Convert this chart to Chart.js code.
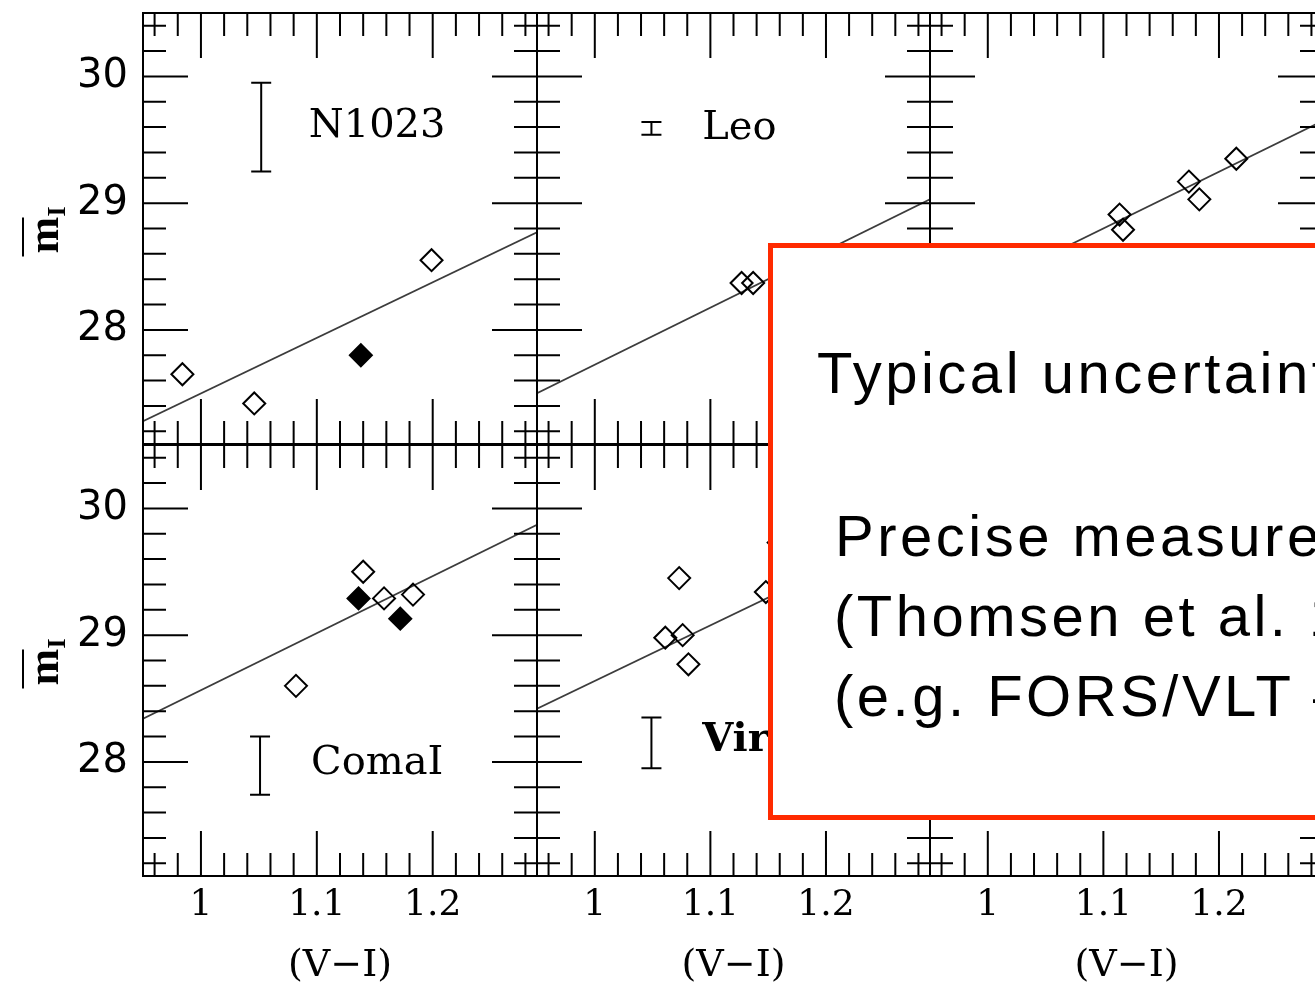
<!DOCTYPE html>
<html>
<head>
<meta charset="utf-8">
<title>SBF magnitude vs (V-I)</title>
<script src="https://cdn.jsdelivr.net/npm/chart.js@4.4.1/dist/chart.umd.min.js"></script>
<style>
  html, body { margin: 0; padding: 0; background: #fff; overflow: hidden; }
  #stage { position: relative; width: 1340px; height: 988px; }
  .panel { position: absolute; left: 0; top: 0; width: 1340px; height: 988px; }
  .note {
    position: absolute; left: 768px; top: 243px;
    width: 600px; height: 567px;
    border: 5px solid #ff2a00; background: #fff;
  }
  .note-line {
    position: absolute; white-space: nowrap; color: #000;
    font-family: "Liberation Sans", Arial, sans-serif;
    font-size: 58px; line-height: 58px; letter-spacing: 3.5px;
  }
</style>
</head>
<body>
<div id="stage">
  <div class="panel"><canvas id="p0"></canvas></div>
  <div class="panel"><canvas id="p1"></canvas></div>
  <div class="panel"><canvas id="p2"></canvas></div>
  <div class="panel"><canvas id="p3"></canvas></div>
  <div class="panel"><canvas id="p4"></canvas></div>
  <div class="panel"><canvas id="p5"></canvas></div>
  <div class="note"></div>
  <div class="note-line" style="left:817px; top:344px;">Typical uncertainty</div>
  <div class="note-line" style="left:835px; top:507px;">Precise measurements</div>
  <div class="note-line" style="left:834px; top:587px;">(Thomsen et al. 1997)</div>
  <div class="note-line" style="left:834px; top:667px;">(e.g. FORS/VLT – 8m)</div>
</div>

<script>
// axis ranges and labelled ticks
const colourRange = [0.95, 1.29];
const magRange = [27.1, 30.5];
const colourTicks = [1, 1.1, 1.2];
const colourTickLabels = ['1', '1.1', '1.2'];
const magTicks = [28, 29, 30];
const magTickLabels = ['28', '29', '30'];

// end points of the fitted relations
const fitVI = [0.95, 1.29];

// NGC 1023
const n1023OpenVI = [0.984, 1.046, 1.199];
const n1023OpenMag = [27.65, 27.42, 28.55];
const n1023FilledVI = [1.138];
const n1023FilledMag = [27.80];
const n1023FitMag = [27.28, 28.77];

// Leo
const leoOpenVI = [1.127, 1.137];
const leoOpenMag = [28.37, 28.37];
const leoFitMag = [27.50, 29.03];

// third group (top right)
const grp3OpenVI = [1.114, 1.117, 1.174, 1.183, 1.215];
const grp3OpenMag = [28.91, 28.79, 29.17, 29.03, 29.35];
const grp3FitMag = [28.13, 29.65];

// Coma I
const comaOpenVI = [1.082, 1.140, 1.158, 1.183];
const comaOpenMag = [28.60, 29.50, 29.29, 29.32];
const comaFilledVI = [1.136, 1.172];
const comaFilledMag = [29.29, 29.13];
const comaFitMag = [28.34, 29.87];

// Virgo
const virgoOpenVI = [1.061, 1.073, 1.076, 1.081, 1.148, 1.159];
const virgoOpenMag = [28.98, 29.45, 29.00, 28.77, 29.34, 29.73];
const virgoFitMag = [28.42, 29.91];

// typical error bar of each panel: colour, centre and half length in mag
const errVI = [1.052, 1.049, null, 1.051, 1.049, null];
const errMag = [29.60, 29.59, null, 27.97, 28.15, null];
const errHalf = [0.35, 0.05, null, 0.23, 0.20, null];

const STAGE_W = 1340, STAGE_H = 988;
const cols = [[143, 537], [537, 930], [930, 1323]];
const rows = [[13, 444], [445, 876]];

function pts(xs, ys) {
  return (xs || []).map((v, i) => ({ x: v, y: ys[i] }));
}

const panels = [
  { col: 0, row: 0, open: pts(n1023OpenVI, n1023OpenMag), filled: pts(n1023FilledVI, n1023FilledMag),
    fit: pts(fitVI, n1023FitMag), name: 'N1023', nameAt: [1.093, 29.60] },
  { col: 1, row: 0, open: pts(leoOpenVI, leoOpenMag), filled: [],
    fit: pts(fitVI, leoFitMag), name: 'Leo', nameAt: [1.093, 29.59] },
  { col: 2, row: 0, open: pts(grp3OpenVI, grp3OpenMag), filled: [],
    fit: pts(fitVI, grp3FitMag) },
  { col: 0, row: 1, open: pts(comaOpenVI, comaOpenMag), filled: pts(comaFilledVI, comaFilledMag),
    fit: pts(fitVI, comaFitMag), name: 'ComaI', nameAt: [1.095, 27.99] },
  { col: 1, row: 1, open: pts(virgoOpenVI, virgoOpenMag), filled: [],
    fit: pts(fitVI, virgoFitMag), name: 'Virgo', nameAt: [1.093, 28.17], bold: true },
  { col: 2, row: 1, open: [], filled: [], fit: [] },
];

// frame, inward ticks, labels and the typical error bar of one panel
const framePlugin = {
  id: 'sbfFrame',
  afterDatasetsDraw(chart, args, opts) {
    const { ctx, chartArea: a } = chart;
    const x = chart.scales.x, y = chart.scales.y;
    ctx.save();
    ctx.strokeStyle = '#000';
    ctx.fillStyle = '#000';
    ctx.lineWidth = 2;
    ctx.lineCap = 'butt';

    // error bar
    if (opts.err) {
      const ex = x.getPixelForValue(opts.err.x);
      const y1 = y.getPixelForValue(opts.err.m - opts.err.h);
      const y2 = y.getPixelForValue(opts.err.m + opts.err.h);
      ctx.beginPath();
      ctx.moveTo(ex, y1); ctx.lineTo(ex, y2);
      ctx.moveTo(ex - 10, y1); ctx.lineTo(ex + 10, y1);
      ctx.moveTo(ex - 10, y2); ctx.lineTo(ex + 10, y2);
      ctx.stroke();
    }

    ctx.strokeRect(a.left, a.top, a.right - a.left, a.bottom - a.top);

    // colour ticks every 0.02, long ones every 0.1
    ctx.beginPath();
    for (let i = 48; i <= 64; i++) {
      const px = x.getPixelForValue(i / 50);
      const len = i % 5 === 0 ? 45 : 23;
      ctx.moveTo(px, a.top); ctx.lineTo(px, a.top + len);
      ctx.moveTo(px, a.bottom); ctx.lineTo(px, a.bottom - len);
    }
    // magnitude ticks every 0.2, long ones every 1
    for (let i = 136; i <= 152; i++) {
      const py = y.getPixelForValue(i / 5);
      const len = i % 5 === 0 ? 45 : 23;
      ctx.moveTo(a.left, py); ctx.lineTo(a.left + len, py);
      ctx.moveTo(a.right, py); ctx.lineTo(a.right - len, py);
    }
    ctx.stroke();

    if (opts.name) {
      ctx.font = (opts.bold ? 'bold ' : '') + '40px "DejaVu Serif"';
      ctx.textAlign = 'left';
      ctx.textBaseline = 'middle';
      ctx.fillText(opts.name, x.getPixelForValue(opts.nameAt[0]), y.getPixelForValue(opts.nameAt[1]));
    }

    if (opts.yLabels) {
      ctx.font = '40px "DejaVu Sans"';
      ctx.textAlign = 'right';
      ctx.textBaseline = 'middle';
      magTicks.forEach((v, i) => ctx.fillText(magTickLabels[i], a.left - 15, y.getPixelForValue(v)));

      // mean I magnitude, rotated
      ctx.save();
      ctx.translate(58, (a.top + a.bottom) / 2);
      ctx.rotate(-Math.PI / 2);
      ctx.textAlign = 'left';
      ctx.textBaseline = 'alphabetic';
      ctx.font = 'bold 44px "Liberation Serif"';
      ctx.fillText('m', -25, 0);
      ctx.font = 'bold 26px "Liberation Serif"';
      ctx.fillText('I', 12, 7);
      ctx.beginPath();
      ctx.moveTo(-28, -35); ctx.lineTo(11, -35);
      ctx.stroke();
      ctx.restore();
    }

    if (opts.xLabels) {
      ctx.font = '36px "DejaVu Serif"';
      ctx.textAlign = 'center';
      ctx.textBaseline = 'middle';
      colourTicks.forEach((v, i) => ctx.fillText(colourTickLabels[i], x.getPixelForValue(v), a.bottom + 30));
      ctx.font = '38px "DejaVu Serif"';
      ctx.fillText('(V\u2212I)', (a.left + a.right) / 2, a.bottom + 90);
    }
    ctx.restore();
  }
};

panels.forEach((p, k) => {
  const [left, right] = cols[p.col];
  const [top, bottom] = rows[p.row];
  const err = errVI[k] === null ? null : { x: errVI[k], m: errMag[k], h: errHalf[k] };

  new Chart(document.getElementById('p' + k), {
    type: 'scatter',
    data: {
      datasets: [
        {
          data: p.open, order: 1,
          pointStyle: 'rectRot', pointRadius: 11, pointBorderWidth: 2,
          pointBorderColor: '#000', pointBackgroundColor: 'rgba(0,0,0,0)',
        },
        {
          data: p.filled, order: 1,
          pointStyle: 'rectRot', pointRadius: 11, pointBorderWidth: 2,
          pointBorderColor: '#000', pointBackgroundColor: '#000',
        },
        {
          data: p.fit, order: 2, showLine: true,
          borderColor: '#3c3c3c', borderWidth: 1.8, pointRadius: 0,
        },
      ],
    },
    options: {
      responsive: true,
      maintainAspectRatio: false,
      animation: false,
      events: [],
      layout: { padding: { left, top, right: STAGE_W - right, bottom: STAGE_H - bottom } },
      scales: {
        x: { type: 'linear', min: colourRange[0], max: colourRange[1], display: false },
        y: { type: 'linear', min: magRange[0], max: magRange[1], display: false },
      },
      plugins: {
        legend: { display: false },
        tooltip: { enabled: false },
        sbfFrame: {
          err,
          name: p.name, nameAt: p.nameAt, bold: p.bold,
          yLabels: p.col === 0,
          xLabels: p.row === 1,
        },
      },
    },
    plugins: [framePlugin],
  });
});
</script>
</body>
</html>
